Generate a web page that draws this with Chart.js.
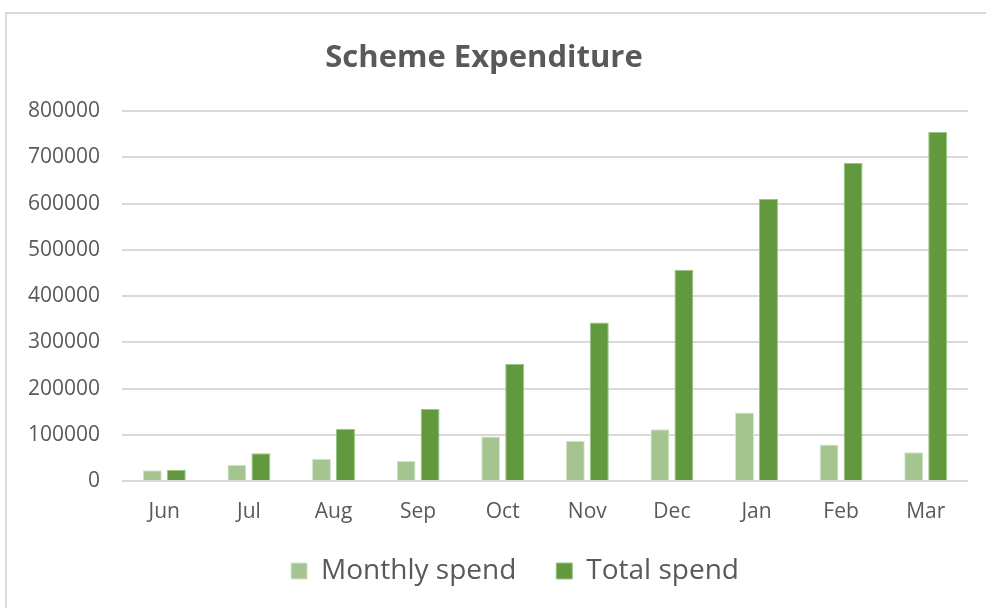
<!DOCTYPE html>
<html>
<head>
<meta charset="utf-8">
<script src="https://cdn.jsdelivr.net/npm/chart.js@4"></script>
<style>
  html, body { margin: 0; padding: 0; background: #ffffff; }
  #wrap { position: relative; width: 986px; height: 608px; overflow: hidden; }
  #frame { position: absolute; left: 5px; top: 12px; width: 1000px; height: 620px; border: 2px solid #d9d9d9; box-sizing: border-box; }
  canvas { position: absolute; left: 0; top: 0; }
</style>
</head>
<body>
<div id="wrap">
  <div id="frame"></div>
  <canvas id="c" width="986" height="608"></canvas>
</div>
<script>
const categories = ["Jun", "Jul", "Aug", "Sep", "Oct", "Nov", "Dec", "Jan", "Feb", "Mar"];
const monthlySpend = [23000, 35000, 48000, 43000, 96000, 87000, 112000, 148000, 79000, 62000];
const totalSpend = [24000, 60000, 113000, 156000, 253000, 343000, 457000, 610000, 688000, 755000];
const yTicks = [0, 100000, 200000, 300000, 400000, 500000, 600000, 700000, 800000];

const textColor = "#595959";
const fontFamily = "'Open Sans', 'Liberation Sans', sans-serif";

const legendShift = {
  id: "legendShift",
  afterLayout(chart) {
    const lg = chart.legend;
    if (lg) { lg.left += 31; lg.right += 31; lg.top -= 13; lg.bottom -= 13; }
  }
};

new Chart(document.getElementById("c"), {
  type: "bar",
  data: {
    labels: categories,
    datasets: [
      { label: "Monthly spend", data: monthlySpend, backgroundColor: "#a4c58f", borderColor: "#d5e6cb", borderWidth: 1 },
      { label: "Total spend", data: totalSpend, backgroundColor: "#62983e", borderColor: "#9cc486", borderWidth: 1 }
    ]
  },
  options: {
    responsive: false,
    animation: false,
    devicePixelRatio: 1,
    layout: { padding: { left: 0, right: 18, top: 0, bottom: 0 } },
    datasets: { bar: { categoryPercentage: 0.567, barPercentage: 0.79 } },
    plugins: {
      title: {
        display: true,
        text: "Scheme Expenditure",
        color: textColor,
        font: { family: fontFamily, size: 31, weight: "bold" },
        padding: { top: 40, bottom: 34 }
      },
      legend: {
        position: "bottom",
        labels: {
          color: textColor,
          font: { family: fontFamily, size: 28 },
          boxWidth: 16,
          boxHeight: 16,
          padding: 40
        }
      },
      tooltip: { enabled: false }
    },
    scales: {
      x: {
        grid: { display: false, drawTicks: false },
        border: { display: false },
        ticks: { color: textColor, font: { family: fontFamily, size: 21 }, padding: 18 },
        afterFit: (s) => { s.height = 49; }
      },
      y: {
        min: 0,
        max: 800000,
        afterBuildTicks: (s) => { s.ticks = yTicks.map(v => ({ value: v })); },
        grid: { color: "#d9d9d9", lineWidth: 2, drawTicks: false },
        border: { display: false },
        ticks: { color: textColor, font: { family: fontFamily, size: 21 }, padding: 22, callback: (v) => String(v) },
        afterFit: (s) => { s.width = 122; }
      }
    }
  },
  plugins: [legendShift]
});
</script>
</body>
</html>
